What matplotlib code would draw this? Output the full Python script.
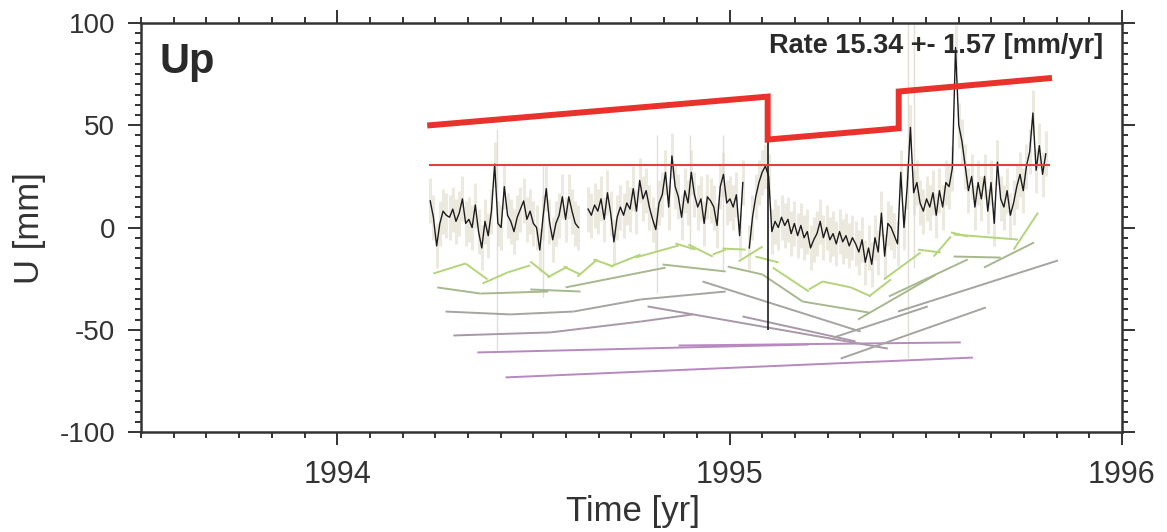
import numpy as np
import matplotlib
matplotlib.use("Agg")
import matplotlib.pyplot as plt
from matplotlib.ticker import MultipleLocator
from matplotlib.collections import LineCollection

plt.rcParams['font.family'] = ['Liberation Sans', 'DejaVu Sans']
plt.rcParams['axes.unicode_minus'] = False

# ---------------- data ----------------
T0 = 1994.237            # first epoch [yr]
DT = 3 / 365.25          # sampling step [yr]
NAN = np.nan
up_mm = [
    # 1994.24 - 1994.62
    13, 5, -9, 2, 8, 6, 5, 9, 3, 7, 14, 2, 4, 0, 11, -2, -10, 3, -4, 8,
    31, 2, 0, 20, 6, 3, -2, 5, 9, 13, 4, 8, 2, 0, -11, 5, 19, 3, -6, 2,
    6, 15, 4, 15, 8, 2, 0,
    NAN, NAN,
    # 1994.64 - 1995.04
    9, 6, 11, 8, 14, 4, 17, 7, -7, 5, 10, 6, 12, 9, 19, 8, 23, 14, 18, 10,
    4, -1, 12, 16, 27, 10, 35, 20, 15, 5, 18, 12, 27, 16, 10, 14, 2, 15, 13, 10,
    1, 20, 26, 12, 14, 10, 16, -4, 22,
    NAN,
    # 1995.05 - 1995.10
    -10, 5, 15, 22, 27, 30, 25,
    # 1995.10 - 1995.43
    -2, 3, 0, 5, 1, 4, -3, 2, -4, 1, -5, -2, -10, -6, -3, 3, -5, 0, -6, -3,
    -8, -2, -7, -4, -9, -5, -8, -12, -6, -17, -10, -18, -5, -12, 7, -14, 2, 0, -4, -8,
    # 1995.44 - 1995.81
    27, 0, 20, 49, 17, 22, 12, 8, 14, 10, 17, 6, 18, 10, 22, 20, 29, 88, 50, 42,
    30, 18, 25, 10, 22, 14, 25, 8, 22, 2, 32, 14, 10, 18, 6, 12, 20, 26, 18, 30,
    37, 56, 28, 40, 26, 36,
]
up_sigma = 11.0

outlier_t = [1995.097]
outlier_lo = [-50]
outlier_hi = [45]

big_err_t = [1994.408, 1994.525, 1994.816, 1994.899, 1994.982, 1995.455, 1995.47]
big_err_lo = [-60, -34, -32, -11, -21, -64, -20]
big_err_hi = [48, 30, 45, 45, 45, 100, 100]

model_t = [1994.237, 1995.097, 1995.097, 1995.431, 1995.431, 1995.814]
model_v = [50.0, 64.0, 43.0, 48.5, 66.5, 73.0]

ref_t = [1994.237, 1995.814]
ref_v = [30.8, 30.8]

rate_text = "Rate 15.34 +- 1.57 [mm/yr]"
component = "Up"

# sliding-window trend segments: (t0, v0, t1, v1)
seg_light_green = [
    (1994.245, -22.5, 1994.327, -17.6), (1994.327, -17.6, 1994.383, -25.4),
    (1994.370, -27.4, 1994.434, -22.0), (1994.434, -22.0, 1994.492, -18.5),
    (1994.492, -16.6, 1994.543, -24.4), (1994.536, -24.4, 1994.587, -19.1),
    (1994.577, -19.1, 1994.620, -23.0), (1994.612, -24.0, 1994.663, -15.6),
    (1994.653, -15.6, 1994.704, -19.1), (1994.696, -19.1, 1994.773, -13.2),
    (1994.760, -14.7, 1994.870, -8.8), (1994.862, -7.8, 1994.913, -10.8),
    (1994.895, -8.3, 1994.957, -14.2), (1994.957, -13.2, 1994.990, -10.8),
    (1994.982, -10.3, 1995.041, -10.8), (1995.023, -16.6, 1995.084, -9.3),
    (1995.066, -14.2, 1995.125, -17.1), (1995.110, -19.6, 1995.202, -31.3),
    (1995.202, -30.3, 1995.237, -26.4), (1995.237, -26.4, 1995.309, -29.3),
    (1995.309, -29.3, 1995.360, -33.7), (1995.355, -33.7, 1995.411, -25.4),
    (1995.393, -25.4, 1995.487, -12.2), (1995.480, -10.8, 1995.538, -12.2),
    (1995.520, -14.2, 1995.564, -4.4), (1995.564, -2.4, 1995.607, -4.4),
    (1995.571, -3.4, 1995.735, -5.9), (1995.724, -10.8, 1995.786, 7.3),
]
seg_grey_green = [
    (1994.255, -29.3, 1994.365, -32.3), (1994.365, -32.3, 1994.538, -31.3),
    (1994.492, -30.3, 1994.620, -31.3), (1994.582, -29.3, 1994.837, -19.6),
    (1994.829, -18.1, 1994.990, -21.5), (1994.995, -19.1, 1995.084, -23.0),
    (1995.084, -23.0, 1995.186, -36.2), (1995.186, -36.2, 1995.355, -41.6),
    (1995.327, -45.0, 1995.526, -23.0), (1995.406, -33.7, 1995.607, -15.6),
    (1995.571, -14.2, 1995.691, -14.7), (1995.648, -19.6, 1995.776, -7.3),
]
seg_grey = [
    (1994.276, -41.1, 1994.441, -42.5), (1994.441, -42.5, 1994.602, -41.1),
    (1994.602, -41.1, 1994.773, -35.2), (1994.773, -35.2, 1994.990, -31.3),
    (1994.931, -26.4, 1995.334, -50.9), (1995.429, -41.1, 1995.837, -16.1),
    (1995.283, -64.1, 1995.653, -39.1), (1995.265, -53.8, 1995.505, -38.6),
]
seg_mauve = [
    (1994.296, -52.8, 1994.543, -51.3), (1994.543, -51.3, 1994.773, -46.0),
    (1994.773, -46.0, 1994.906, -42.5), (1994.791, -38.6, 1995.403, -59.2),
    (1995.033, -43.5, 1995.321, -55.7),
]
seg_purple = [
    (1994.357, -61.1, 1995.202, -57.2), (1994.870, -57.7, 1995.589, -56.2),
    (1994.429, -73.3, 1995.620, -63.6),
]

x_major = [1994, 1995, 1996]
y_major = [-100, -50, 0, 50, 100]

# ---------------- figure ----------------
W, H = 1167, 532
fig = plt.figure(figsize=(W / 100, H / 100), dpi=100)
ax = fig.add_axes([141 / W, 1 - 432 / H, (1122 - 141) / W, (432 - 23) / H])

t = T0 + DT * np.arange(len(up_mm))
v = np.array(up_mm, dtype=float)

# error bars (haze)
ok = ~np.isnan(v)
ax.vlines(t[ok], v[ok] - up_sigma, v[ok] + up_sigma, colors='#d6cfb6',
          linewidth=2.2, alpha=0.45, zorder=1)
ax.vlines(big_err_t, big_err_lo, big_err_hi, colors='#dcd8cc', linewidth=1.0,
          alpha=0.8, zorder=1)

# trend segments
def draw(segs, color):
    lines = [[(a, b), (c, d)] for a, b, c, d in segs]
    ax.add_collection(LineCollection(lines, colors=color, linewidths=1.4, zorder=2))

draw(seg_purple, '#b888c0')
draw(seg_mauve, '#a898a8')
draw(seg_grey, '#a4a4a0')
draw(seg_grey_green, '#a8b88e')
draw(seg_light_green, '#b4d47a')

# series
ax.plot(t, v, color='#1c1c1c', linewidth=1.0, zorder=3)
ax.vlines(outlier_t, outlier_lo, outlier_hi, colors='#1c1c1c', linewidth=1.2, zorder=3)

# model lines
ax.plot(ref_t, ref_v, color='#e2403a', linewidth=1.5, zorder=4)
ax.plot(model_t, model_v, color='#e8322b', linewidth=4.3, zorder=5,
        solid_joinstyle='miter')

ax.set_xlim(1993.5, 1996)
ax.set_ylim(-100, 100)
ax.set_xticks(x_major)
ax.set_yticks(y_major)
ax.xaxis.set_minor_locator(MultipleLocator(1 / 12))
ax.yaxis.set_minor_locator(MultipleLocator(5))
ax.tick_params(which='both', direction='out', top=True, right=True,
               labeltop=False, labelright=False, color='#333333', width=1.4)
ax.tick_params(which='major', length=9.5)
ax.tick_params(which='minor', length=4)
ax.tick_params(axis='y', which='major', pad=9, labelsize=20, labelcolor='#333333')
ax.tick_params(axis='x', which='major', pad=11, labelsize=22, labelcolor='#333333')
for s in ax.spines.values():
    s.set_linewidth(1.8)
    s.set_color('#333333')

fig.text(160 / W, 1 - 73 / H, component, fontsize=30, fontweight='bold',
         ha='left', va='baseline', color='#2a2a2a')
fig.text(1103 / W, 1 - 53 / H, rate_text, fontsize=19.5, fontweight='bold',
         ha='right', va='baseline', color='#2a2a2a')
fig.text(29 / W, 1 - 228 / H, 'U [mm]', rotation=90, fontsize=25,
         ha='center', va='center', color='#333333')
fig.text(633 / W, 1 - 511 / H, 'Time [yr]', fontsize=25,
         ha='center', va='center', color='#333333')

fig.savefig('out.png', dpi=100)
